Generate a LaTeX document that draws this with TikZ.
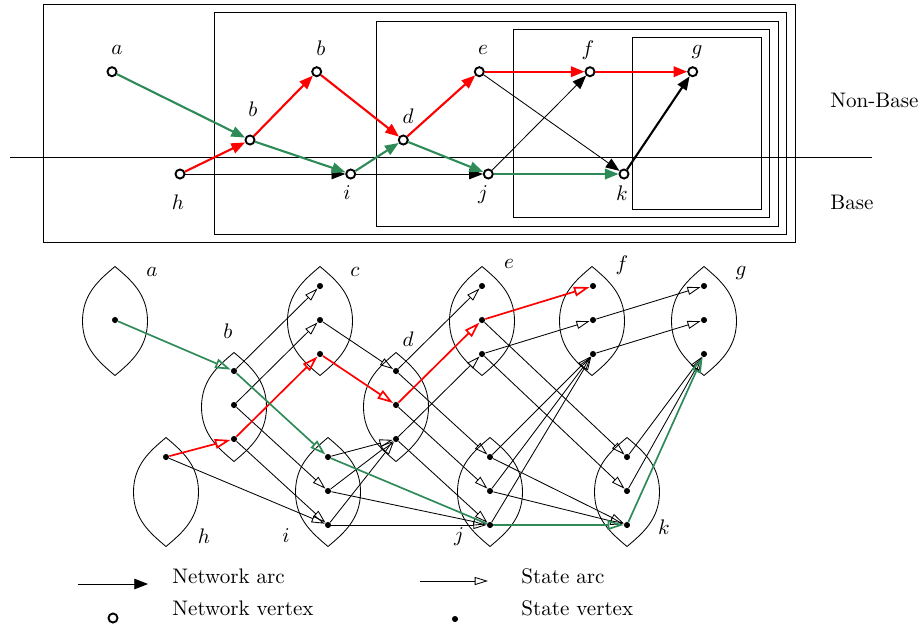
\documentclass[tikz,border=0pt]{standalone}
\usetikzlibrary{arrows.meta}
\definecolor{sgreen}{RGB}{46,139,87}
\begin{document}
\begin{tikzpicture}[x=0.475pt,y=-0.475pt,
  nv/.style={circle,draw,line width=0.9pt,minimum size=4.3pt,inner sep=0pt},
  sv/.style={circle,fill,minimum size=2.9pt,inner sep=0pt},
  narc/.style={-{Triangle[length=6.5pt,width=5pt]}},
  ngreen/.style={narc,draw=sgreen,line width=1pt},
  nred/.style={narc,draw=red,line width=1pt},
  nthin/.style={narc,line width=0.4pt},
  nthick/.style={narc,line width=1pt},
  sarc/.style={-{Triangle[open,length=6.3pt,width=3.8pt]},line width=0.4pt},
  sred/.style={-{Triangle[open,length=7.5pt,width=4.6pt]},draw=red,line width=0.8pt},
  sgr/.style={-{Triangle[open,length=7.5pt,width=4.6pt]},draw=sgreen,line width=0.8pt},
  sgrplain/.style={draw=sgreen,line width=0.8pt},
  frame/.style={line width=0.45pt},
  lensline/.style={line width=0.4pt}
]
\useasboundingbox (0,0) rectangle (922,630);

% ---------------- top part ----------------
\draw[frame] (43.7,4) rectangle (795,242.7);
\draw[frame] (214.3,12.7) rectangle (786.7,234.3);
\draw[frame] (376.7,21) rectangle (778.3,226);
\draw[frame] (513.3,29.3) rectangle (769.3,217.3);
\draw[frame] (632.7,37.7) rectangle (761,209);

\coordinate (hl) at (10,157.3);
\coordinate (hr) at (872,157.3);
\draw[line width=0.45pt] (hl) -- (hr);

\node[anchor=west,inner sep=0pt] (tnb) at (830,100) {Non-Base};
\node[anchor=west,inner sep=0pt] (tb) at (830,202) {Base};

\node[nv] (na)  at (112,71.7) {};
\node[nv] (nbl) at (250,140) {};
\node[nv] (nbu) at (316.7,71.7) {};
\node[nv] (nh)  at (180,174) {};
\node[nv] (ni)  at (350.7,174) {};
\node[nv] (nd)  at (403.3,140) {};
\node[nv] (ne)  at (479.3,71.7) {};
\node[nv] (nf)  at (590,71.7) {};
\node[nv] (ng)  at (692.7,71.7) {};
\node[nv] (nj)  at (488.3,174) {};
\node[nv] (nk)  at (624,174) {};

\node (tla) at (117,50) {$a$};
\node (tlbl) at (253,109) {$b$};
\node (tlbu) at (321,48) {$b$};
\node (tld) at (408,116) {$d$};
\node (tlh) at (178,202) {$h$};
\node (tli) at (347,193) {$i$};
\node (tle) at (483,50) {$e$};
\node (tlf) at (588,50) {$f$};
\node (tlg) at (697,52) {$g$};
\node (tlj) at (483,195) {$j$};
\node (tlk) at (622,193) {$k$};

\draw[nthin] (nh) -- (ni);
\draw[nthin] (ni) -- (nj);
\draw[nthin] (ne) -- (nk);
\draw[nthin] (nj) -- (nf);
\draw[nthick] (nk) -- (ng);
\draw[ngreen] (na) -- (nbl);
\draw[ngreen] (nbl) -- (ni);
\draw[ngreen] (ni) -- (nd);
\draw[ngreen] (nd) -- (nj);
\draw[ngreen] (nj) -- (nk);
\draw[nred] (nh) -- (nbl);
\draw[nred] (nbl) -- (nbu);
\draw[nred] (nbu) -- (nd);
\draw[nred] (nd) -- (ne);
\draw[nred] (ne) -- (nf);
\draw[nred] (nf) -- (ng);

% ---------------- bottom part ----------------
\foreach \cx/\cy in {115/321, 234/407, 166/492, 320/321, 328/492, 396/407, 482/321, 592/321, 704/321, 490/492, 627/492}{
  \draw[lensline,shift={(\cx,\cy)}] (0,-54.5) .. controls (16,-41) and (32.5,-27) .. (32.5,0)
     .. controls (32.5,27) and (16,41) .. (0,54.5)
     .. controls (-16,41) and (-32.5,27) .. (-32.5,0)
     .. controls (-32.5,-27) and (-16,-41) .. cycle;
}

\foreach \n/\x/\y in {sa/115/320, sb1/234/371, sb2/234/405, sb3/234/439, sh/166/457,
  sc1/320/286, sc2/320/320, sc3/320/354, si1/328/457, si2/328/491, si3/328/525,
  sd1/396/371, sd2/396/405, sd3/396/439, se1/482/286, se2/482/320, se3/482/354,
  sf1/593/286, sf2/593/320, sf3/593/354, sg1/704/286, sg2/704/320, sg3/704/354,
  sj1/490/457, sj2/490/491, sj3/490/525, sk1/627/457, sk2/627/491, sk3/627/525}{
  \node[sv] (\n) at (\x,\y) {};
}

\node (bla) at (152,272) {$a$};
\node (blc) at (355,272) {$c$};
\node (blb) at (228,331) {$b$};
\node (bld) at (408,339) {$d$};
\node (ble) at (509,264) {$e$};
\node (blf) at (622,265) {$f$};
\node (blg) at (741,273) {$g$};
\node (blh) at (204,536) {$h$};
\node (bli) at (286,536) {$i$};
\node (blj) at (459,537) {$j$};
\node (blk) at (664,527) {$k$};

\foreach \s/\t in {sb1/sc1, sb2/sc2, sb2/si2, sb3/si3, sh/si3, sc2/sd1, si1/sd3, si2/sd3, si3/sd3,
  sd1/se1, sd3/se3, sd1/sj1, sd2/sj2, sd3/sj3, si2/sj3, si3/sj3, se3/sf2, sf2/sg1, sf3/sg2,
  se2/sk1, se3/sk2, sj1/sf3, sj2/sf3, sj3/sf3, sj1/sk3, sj2/sk3, sk1/sg3, sk2/sg3}{
  \draw[sarc] (\s) -- (\t);
}

\draw[sred] (sh) -- (sb3);
\draw[sred] (sb3) -- (sc3);
\draw[sred] (sc3) -- (sd2);
\draw[sred] (sd2) -- (se2);
\draw[sred] (se2) -- (sf1);

\draw[sgr] (sa) -- (sb1);
\draw[sgr] (sb1) -- (si1);
\draw[sgrplain] (si1) -- (sj3);
\draw[sgr] (sj3) -- (sk3);
\draw[sgr] (sk3) -- (sg3);

% ---------------- legend ----------------
\coordinate (l1s) at (78,584);
\coordinate (l1e) at (148,584);
\draw[nthin] (l1s) -- (l1e);
\node[nv] (lnv) at (113,618) {};
\node[anchor=base west,inner sep=0pt] (tna) at (172,583) {Network arc};
\node[anchor=base west,inner sep=0pt] (tnv) at (172,615) {Network vertex};

\coordinate (l2s) at (420,581);
\coordinate (l2e) at (488,581);
\draw[sarc] (l2s) -- (l2e);
\node[sv] (lsv) at (455,619) {};
\node[anchor=base west,inner sep=0pt] (tsa) at (521,583) {State arc};
\node[anchor=base west,inner sep=0pt] (tsv) at (521,615) {State vertex};
\end{tikzpicture}
\end{document}
